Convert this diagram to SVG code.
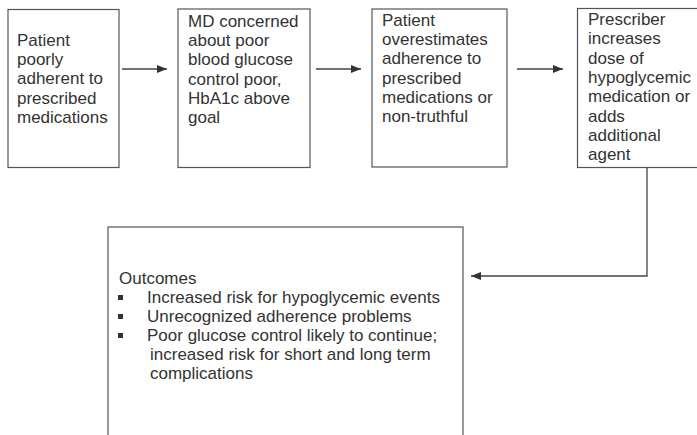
<svg xmlns="http://www.w3.org/2000/svg" width="697" height="435" viewBox="0 0 697 435">
<style>
.box{fill:#fff;stroke:#555;stroke-width:1.2}
.t{font-family:"Liberation Sans",Arial,sans-serif;font-size:17px;fill:#333}
.c{stroke:#444;stroke-width:1.3;fill:none}
</style>
<defs>
<marker id="ah" viewBox="0 0 10 8" refX="10" refY="4" markerWidth="10" markerHeight="8" markerUnits="userSpaceOnUse" orient="auto">
<path d="M0,0 L10,4 L0,8 z" fill="#333"/>
</marker>
</defs>
<rect width="697" height="435" fill="#fff"/>
<g id="connectors">
<line class="c" x1="122" y1="69" x2="167" y2="69" marker-end="url(#ah)"/>
<line class="c" x1="316" y1="69" x2="361" y2="69" marker-end="url(#ah)"/>
<line class="c" x1="517" y1="69" x2="563" y2="69" marker-end="url(#ah)"/>
<polyline class="c" points="647,168 647,276 471,276" marker-end="url(#ah)"/>
</g>
<g id="n1">
<rect class="box" x="8" y="9.5" width="111" height="158"/>
<text class="t" x="17"><tspan x="17" y="46">Patient</tspan><tspan x="17" y="65.2">poorly</tspan><tspan x="17" y="84.4">adherent to</tspan><tspan x="17" y="103.6">prescribed</tspan><tspan x="17" y="122.8">medications</tspan></text>
</g>
<g id="n2">
<rect class="box" x="178" y="9" width="132" height="158.5"/>
<text class="t"><tspan x="188" y="27">MD concerned</tspan><tspan x="188" y="46.2">about poor</tspan><tspan x="188" y="65.4">blood glucose</tspan><tspan x="188" y="84.6">control poor,</tspan><tspan x="188" y="103.8">HbA1c above</tspan><tspan x="188" y="123">goal</tspan></text>
</g>
<g id="n3">
<rect class="box" x="372" y="9" width="135" height="158"/>
<text class="t"><tspan x="382" y="26">Patient</tspan><tspan x="382" y="45.2">overestimates</tspan><tspan x="382" y="64.4">adherence to</tspan><tspan x="382" y="83.6">prescribed</tspan><tspan x="382" y="102.8">medications or</tspan><tspan x="382" y="122">non-truthful</tspan></text>
</g>
<g id="n4">
<rect class="box" x="577.5" y="8.5" width="130" height="159"/>
<text class="t"><tspan x="588" y="25">Prescriber</tspan><tspan x="588" y="44.3">increases</tspan><tspan x="588" y="63.6">dose of</tspan><tspan x="588" y="82.9">hypoglycemic</tspan><tspan x="588" y="102.2">medication or</tspan><tspan x="588" y="121.5">adds</tspan><tspan x="588" y="140.8">additional</tspan><tspan x="588" y="160">agent</tspan></text>
</g>
<g id="outcomes">
<rect class="box" x="108" y="227" width="355" height="220"/>
<text class="t"><tspan x="119" y="284">Outcomes</tspan><tspan x="147" y="303">Increased risk for hypoglycemic events</tspan><tspan x="147" y="322">Unrecognized adherence problems</tspan><tspan x="147" y="341">Poor glucose control likely to continue;</tspan><tspan x="150" y="360">increased risk for short and long term</tspan><tspan x="150" y="379">complications</tspan></text>
<g fill="#333">
<rect x="118" y="295" width="5" height="5"/>
<rect x="118" y="314" width="5" height="5"/>
<rect x="118" y="333" width="5" height="5"/>
</g>
</g>
</svg>
